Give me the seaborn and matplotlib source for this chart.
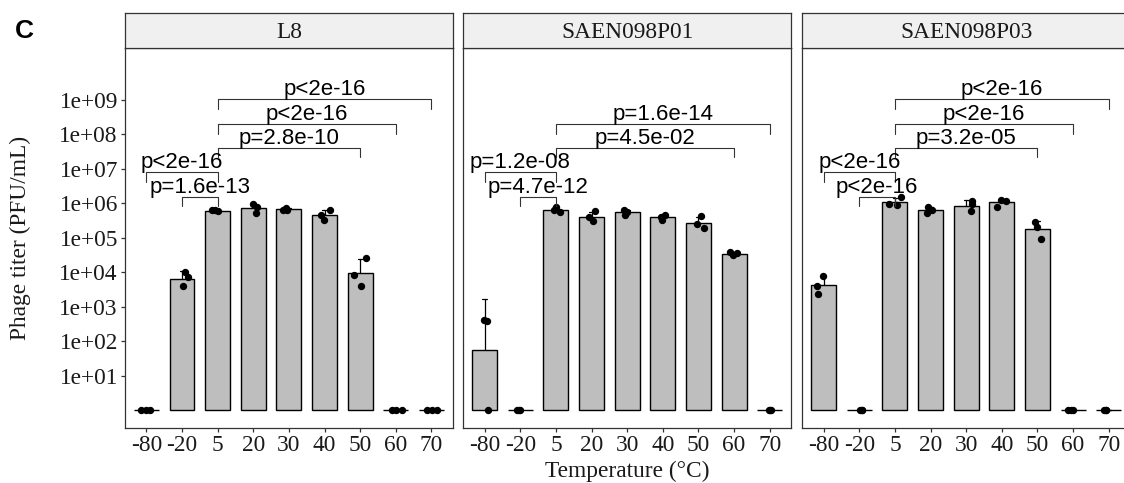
import numpy as np
import pandas as pd
import matplotlib
matplotlib.use("Agg")
import matplotlib.pyplot as plt
import seaborn as sns

# ---------------- data ----------------
temps = ["-80", "-20", "5", "20", "30", "40", "50", "60", "70"]
phages = ["L8", "SAEN098P01", "SAEN098P03"]

# Phage titer (PFU/mL), three replicates per temperature; 1 = none detected (1e+00 baseline)
l8_titer = [
    [1, 1, 1],
    [1.0e4, 7.2e3, 3.9e3],
    [5.9e5, 6.2e5, 6.3e5],
    [9.5e5, 5.1e5, 7.7e5],
    [6.5e5, 6.2e5, 7.4e5],
    [6.2e5, 4.6e5, 3.3e5],
    [2.6e4, 8.5e3, 3.9e3],
    [1, 1, 1],
    [1, 1, 1],
]
p01_titer = [
    [1, 380, 420],
    [1, 1, 1],
    [7.8e5, 6.5e5, 5.4e5],
    [5.8e5, 4.0e5, 3.0e5],
    [6.2e5, 5.6e5, 4.6e5],
    [4.6e5, 4.0e5, 3.3e5],
    [4.2e5, 2.5e5, 1.9e5],
    [3.8e4, 3.5e4, 3.2e4],
    [1, 1, 1],
]
p03_titer = [
    [8.0e3, 4.1e3, 2.4e3],
    [1, 1, 1],
    [1.48e6, 9.0e5, 9.5e5],
    [7.8e5, 6.5e5, 5.1e5],
    [1.15e6, 9.5e5, 5.8e5],
    [1.26e6, 1.17e6, 8.0e5],
    [2.8e5, 2.1e5, 9.2e4],
    [1, 1, 1],
    [1, 1, 1],
]

# pairwise comparisons (group1, group2, label), stacked bottom to top
l8_pvals = [("-20", "5", "p=1.6e-13"), ("-80", "5", "p<2e-16"), ("5", "50", "p=2.8e-10"),
            ("5", "60", "p<2e-16"), ("5", "70", "p<2e-16")]
p01_pvals = [("-20", "5", "p=4.7e-12"), ("-80", "5", "p=1.2e-08"),
             ("5", "60", "p=4.5e-02"), ("5", "70", "p=1.6e-14")]
p03_pvals = [("-20", "5", "p<2e-16"), ("-80", "5", "p<2e-16"), ("5", "50", "p=3.2e-05"),
             ("5", "60", "p<2e-16"), ("5", "70", "p<2e-16")]
# bracket heights (log10 PFU/mL)
bracket_levels = [6.19, 6.90, 7.61, 8.29, 9.01]

y_breaks = [1, 2, 3, 4, 5, 6, 7, 8, 9]
y_labels = ["1e+01", "1e+02", "1e+03", "1e+04", "1e+05", "1e+06", "1e+07", "1e+08", "1e+09"]

# ---------------- style ----------------
sns.set_theme(style="ticks")
plt.rcParams["font.family"] = ["Liberation Serif", "DejaVu Serif"]
TXT = "#1a1a1a"
LINE = "#333333"
SERIF_SIZE = 16.8

W, H = 1124, 483
fig = plt.figure(figsize=(W / 100, H / 100), dpi=100)
fig.patch.set_facecolor("white")

panel_left = [125.0, 463.3, 802.3]
panel_w = 327.8
p_top, p_bottom, s_top = 48.0, 427.5, 13.0

np.random.seed(7)
all_titers = [l8_titer, p01_titer, p03_titer]
all_pvals = [l8_pvals, p01_pvals, p03_pvals]

for i, name in enumerate(phages):
    titers = all_titers[i]
    df = pd.DataFrame({
        "temp": np.repeat(temps, 3),
        "titer": np.concatenate([np.asarray(t, dtype=float) for t in titers]),
    })
    df["log_titer"] = np.log10(df["titer"])

    ax = fig.add_axes([panel_left[i] / W, (H - p_bottom) / H, panel_w / W, (p_bottom - p_top) / H])
    ax.set_facecolor("white")
    sns.barplot(data=df, x="temp", y="log_titer", order=temps, estimator="mean",
                errorbar="sd", width=0.7, color="#BEBEBE", saturation=1,
                edgecolor="black", linewidth=1.0, capsize=0.13,
                err_kws={"color": "black", "linewidth": 0.9, "zorder": 0.5}, ax=ax)
    sns.stripplot(data=df, x="temp", y="log_titer", order=temps, color="black",
                  size=5.3, jitter=0.18, ax=ax, zorder=3, linewidth=0)

    for j, (g1, g2, lab) in enumerate(all_pvals[i]):
        x1, x2 = temps.index(g1), temps.index(g2)
        y = bracket_levels[j]
        tip = 0.275
        ax.plot([x1, x1, x2, x2], [y - tip, y, y, y - tip], color=LINE, lw=0.8, zorder=4)
        ax.annotate(lab, xy=((x1 + x2) / 2, y), xytext=(0, 3.0), textcoords="offset points",
                    ha="center", va="baseline", fontsize=16, family="Liberation Sans",
                    color="black", zorder=5)

    ax.set_xlim(-0.6, 8.6)
    ax.set_ylim(-0.5, 10.5)
    ax.set_xlabel("")
    ax.set_ylabel("")
    ax.tick_params(axis="both", length=2.9, width=0.9, color=LINE, pad=2.2,
                   labelsize=SERIF_SIZE, labelcolor=TXT)
    if i == 0:
        ax.set_yticks(y_breaks)
        ax.set_yticklabels(y_labels)
    else:
        ax.set_yticks([])
    for s in ax.spines.values():
        s.set_visible(True)
        s.set_linewidth(0.9)
        s.set_color(LINE)

    sax = fig.add_axes([panel_left[i] / W, (H - p_top) / H, panel_w / W, (p_top - s_top) / H])
    sax.set_facecolor("#F0F0F0")
    sax.set_xticks([])
    sax.set_yticks([])
    for s in sax.spines.values():
        s.set_visible(True)
        s.set_linewidth(0.9)
        s.set_color(LINE)
    sax.text(0.5, 0.45, name, ha="center", va="center", fontsize=SERIF_SIZE,
             color=TXT, transform=sax.transAxes)

fig.text(20.8 / W, (H - 237.5) / H, "Phage titer (PFU/mL)", rotation=90,
         ha="center", va="center", fontsize=SERIF_SIZE, color=TXT)
fig.text(627 / W, (H - 471.0) / H, "Temperature (°C)", ha="center", va="center",
         fontsize=SERIF_SIZE, color=TXT)
fig.text(15 / W, (H - 38) / H, "C", ha="left", va="baseline", fontsize=19,
         fontweight="bold", family="Liberation Sans", color="black")

fig.savefig("out.png", dpi=100)
